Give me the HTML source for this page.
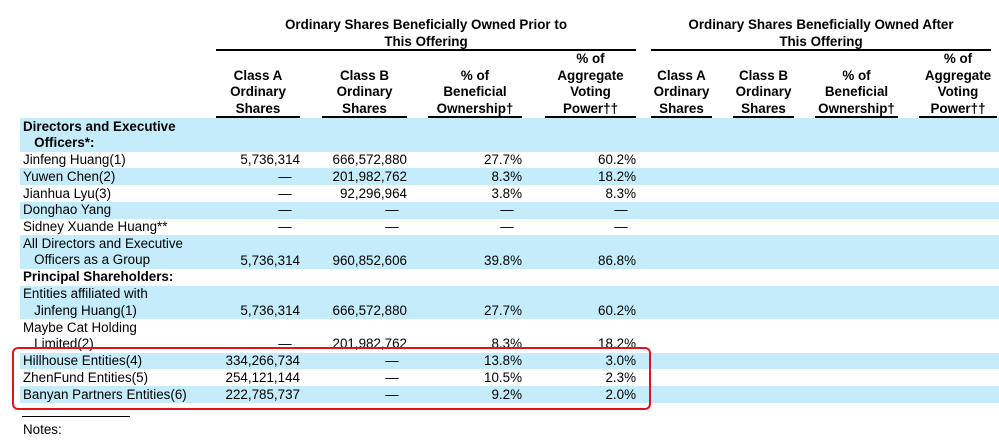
<!DOCTYPE html>
<html><head><meta charset="utf-8"><style>
body{margin:0;width:999px;height:441px;background:#fff;overflow:hidden;position:relative;font-family:"Liberation Sans",Arial,sans-serif;font-size:13.4px;color:#000}
.a{position:absolute;white-space:nowrap;line-height:16.7px}
.b{font-weight:bold}
.c{text-align:center}
.r{text-align:right}
.sh{position:absolute;left:20px;width:979px;background:#c4ecfb}
.ul{position:absolute;height:1.5px;background:#000}
</style></head><body>
<div id="bg"></div>
<div class="a b c" style="left:216px;width:420px;top:17px">Ordinary Shares Beneficially Owned Prior to<br>This Offering</div>
<div class="ul" style="left:216px;width:420px;top:49px"></div>
<div class="a b c" style="left:651px;width:340px;top:17px">Ordinary Shares Beneficially Owned After<br>This Offering</div>
<div class="ul" style="left:651px;width:340px;top:49px"></div>
<div id="hdr"></div>
<div id="rows"></div>
<div style="position:absolute;left:12px;top:347px;width:635px;height:59px;border:2px solid #e0141c;border-radius:6px"></div>
<div class="ul" style="left:22px;width:108px;top:416px;height:1px"></div>
<div class="a" style="left:23px;top:422px">Notes:</div>
<script>
const colL=[216,322,428,545,651,733,815,919];
const colR=[300,407,522,636,712,794,898,997];
const heads=[["","Class A","Ordinary","Shares"],["","Class B","Ordinary","Shares"],["","% of","Beneficial","Ownership†"],["% of","Aggregate","Voting","Power††"]];
const labels=[["<b>Directors and Executive</b>","<b>&nbsp;&nbsp;&nbsp;Officers*:</b>"],["Jinfeng Huang(1)"],["Yuwen Chen(2)"],["Jianhua Lyu(3)"],["Donghao Yang"],["Sidney Xuande Huang**"],["All Directors and Executive","&nbsp;&nbsp;&nbsp;Officers as a Group"],["<b>Principal Shareholders:</b>"],["Entities affiliated with","&nbsp;&nbsp;&nbsp;Jinfeng Huang(1)"],["Maybe Cat Holding","&nbsp;&nbsp;&nbsp;Limited(2)"],["Hillhouse Entities(4)"],["ZhenFund Entities(5)"],["Banyan Partners Entities(6)"]];
const classA=["","5,736,314","—","—","—","—","5,736,314","","5,736,314","—","334,266,734","254,121,144","222,785,737"];
const classB=["","666,572,880","201,982,762","92,296,964","—","—","960,852,606","","666,572,880","201,982,762","—","—","—"];
const benef=["","27.7%","8.3%","3.8%","—","—","39.8%","","27.7%","8.3%","13.8%","10.5%","9.2%"];
const voting=["","60.2%","18.2%","8.3%","—","—","86.8%","","60.2%","18.2%","3.0%","2.3%","2.0%"];
const hdr=document.getElementById('hdr');
for(let g=0;g<2;g++)for(let i=0;i<4;i++){const k=g*4+i;
 const d=document.createElement('div');d.className='a b c';
 d.style.left=(colL[k]-10)+'px';d.style.width=(colR[k]-colL[k]+20)+'px';d.style.top='51px';
 d.innerHTML=heads[i].map(t=>t||'&nbsp;').join('<br>');
 
 
 hdr.appendChild(d);
 const u=document.createElement('div');u.className='ul';u.style.left=colL[k]+'px';u.style.width=(colR[k]-colL[k])+'px';u.style.top='116px';
 
 
 hdr.appendChild(u);}
const rows=document.getElementById('rows');const bg=document.getElementById('bg');
let y=118;const lh=16.75;
labels.forEach((lab,i)=>{const h=lab.length*lh;
 if(i%2===0){const s=document.createElement('div');s.className='sh';s.style.top=y+'px';s.style.height=h+'px';
  
  
  bg.appendChild(s);}
 const l=document.createElement('div');l.className='a';l.style.left='23px';l.style.top=(y+0.5)+'px';l.innerHTML=lab.join('<br>');
 
 
 rows.appendChild(l);
 const vals=[classA[i],classB[i],benef[i],voting[i]];
 vals.forEach((v,k)=>{if(!v)return;const c=document.createElement('div');
  const dash=v==='—';c.className='a '+(dash?'c':'r');
  if(dash){c.style.left=(colR[k]-30)+'px';c.style.width='30px';}else{c.style.left=(colR[k]-120)+'px';c.style.width='120px';}
  c.style.top=(y+h-lh+0.5)+'px';c.textContent=v;
  
  
  rows.appendChild(c);});
 y+=h;});
</script>
</body></html>
